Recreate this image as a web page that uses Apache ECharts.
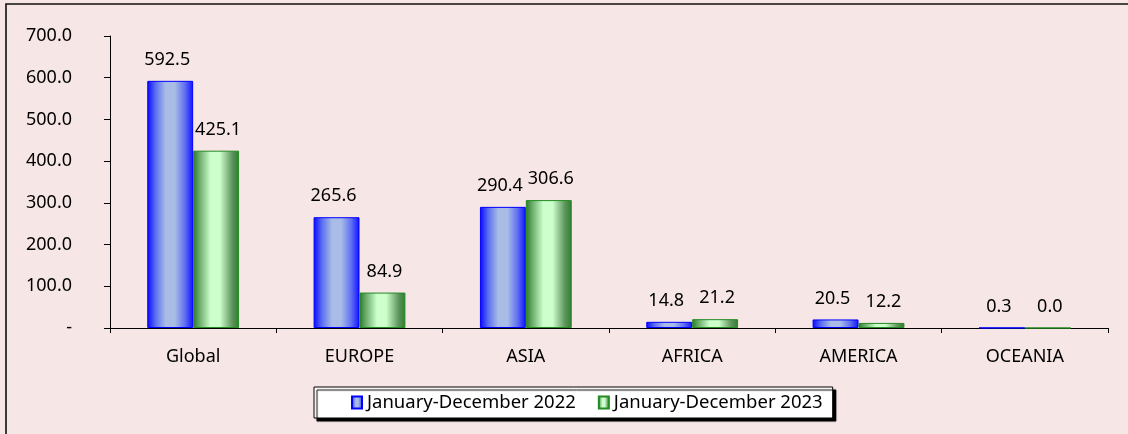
<!DOCTYPE html>
<html>
<head>
<meta charset="utf-8">
<script src="https://cdn.jsdelivr.net/npm/echarts@6/dist/echarts.min.js"></script>
<style>
html,body{margin:0;padding:0;background:#F7E6E6;}
#chart{width:1128px;height:434px;}
</style>
</head>
<body>
<div id="chart"></div>
<script>
const categories = ['Global', 'EUROPE', 'ASIA', 'AFRICA', 'AMERICA', 'OCEANIA'];
const series2022 = [592.5, 265.6, 290.4, 14.8, 20.5, 0.3];
const series2023 = [425.1, 84.9, 306.6, 21.2, 12.2, 0.0];
const seriesNames = ['January-December 2022', 'January-December 2023'];
const yTickLabels = ['-', '100.0', '200.0', '300.0', '400.0', '500.0', '600.0', '700.0'];

const FONT = 'Noto Sans';
const FS = 18;

const blueGrad = new echarts.graphic.LinearGradient(0, 0, 1, 0, [
  {offset: 0, color: '#0808FF'},
  {offset: 0.18, color: '#5A6EF0'},
  {offset: 0.4, color: '#A8BCE6'},
  {offset: 0.6, color: '#A8BCE6'},
  {offset: 0.82, color: '#6070F2'},
  {offset: 1, color: '#1010FF'}
]);
const greenGrad = new echarts.graphic.LinearGradient(0, 0, 1, 0, [
  {offset: 0, color: '#2A7A2A'},
  {offset: 0.15, color: '#6FAF6F'},
  {offset: 0.38, color: '#CCFFCC'},
  {offset: 0.58, color: '#CCFFCC'},
  {offset: 0.85, color: '#5E955E'},
  {offset: 1, color: '#2E7D2E'}
]);

const chart = echarts.init(document.getElementById('chart'), null, {renderer: 'canvas'});
chart.setOption({
  backgroundColor: '#F7E6E6',
  animation: false,
  textStyle: {fontFamily: FONT},
  graphic: [{
    type: 'rect',
    shape: {x: 6, y: 4, width: 1400, height: 800},
    style: {fill: 'none', stroke: '#111', lineWidth: 1.6},
    silent: true,
    z: -1
  }],
  grid: {left: 110, right: 20, top: 36, bottom: 106},
  legend: {
    left: 314,
    top: 387,
    width: 540,
    itemWidth: 10,
    itemHeight: 12,
    itemGap: 22,
    padding: [6, 10, 6, 37],
    backgroundColor: '#FFFFFF',
    borderColor: '#000',
    borderWidth: 1,
    borderRadius: 0,
    shadowColor: '#000',
    shadowBlur: 1,
    shadowOffsetX: 3,
    shadowOffsetY: 3,
    textStyle: {fontFamily: FONT, fontSize: 18.5, color: '#000', padding: [0, 0, 0, 0]},
    data: [
      {name: seriesNames[0], icon: 'rect'},
      {name: seriesNames[1], icon: 'rect'}
    ]
  },
  xAxis: {
    type: 'category',
    data: categories,
    axisLine: {lineStyle: {color: '#000', width: 1}},
    axisTick: {show: true, alignWithLabel: false, length: 5, lineStyle: {color: '#000'}},
    axisLabel: {fontFamily: FONT, fontSize: FS, color: '#000', margin: 20}
  },
  yAxis: {
    type: 'value',
    min: 0,
    max: 700,
    interval: 100,
    axisLine: {show: true, lineStyle: {color: '#000', width: 1}},
    axisTick: {show: true, length: 6, lineStyle: {color: '#000'}},
    splitLine: {show: false},
    axisLabel: {
      fontFamily: FONT, fontSize: FS, color: '#000', margin: 38,
      formatter: function (v) { return yTickLabels[Math.round(v / 100)]; }
    }
  },
  series: [
    {
      name: seriesNames[0],
      type: 'bar',
      data: series2022,
      barWidth: '27.6%',
      barGap: '0%',
      itemStyle: {color: blueGrad, borderColor: '#0000FF', borderWidth: 1},
      label: {
        show: true, position: 'top', distance: 12, offset: [-3, 0],
        fontFamily: FONT, fontSize: FS, color: '#000',
        formatter: function (p) { return p.value.toFixed(1); }
      }
    },
    {
      name: seriesNames[1],
      type: 'bar',
      data: series2023,
      barWidth: '27.6%',
      barGap: '0%',
      itemStyle: {color: greenGrad, borderColor: '#228B22', borderWidth: 1},
      label: {
        show: true, position: 'top', distance: 12, offset: [2, 0],
        fontFamily: FONT, fontSize: FS, color: '#000',
        formatter: function (p) { return p.value.toFixed(1); }
      }
    }
  ]
});
</script>
</body>
</html>
